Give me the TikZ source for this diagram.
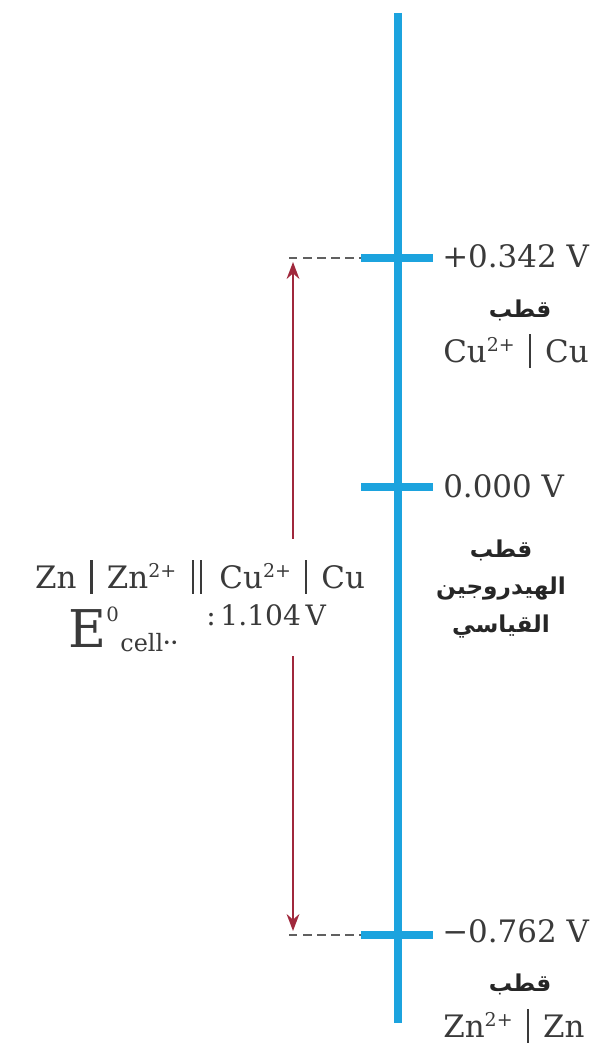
\documentclass[tikz,border=0pt]{standalone}
\usepackage{fontspec}
\setmainfont{DejaVu Serif}
\newfontfamily\arabicfont[Script=Arabic]{DejaVu Sans}
\TeXXeTstate=1
\usetikzlibrary{arrows.meta}
\definecolor{ScaleBlue}{HTML}{1CA3DE}
\definecolor{CellRed}{HTML}{A0283C}
\definecolor{LabelGrey}{HTML}{3A3A3A}
\definecolor{DashGrey}{HTML}{606060}

% ion charge, phase boundary and salt bridge
\newcommand\chg[1]{\raisebox{7.5pt}{\fontsize{13.5}{13.5}\selectfont #1}}
\newcommand\phasebar{\hspace{0.45em}\rule[-4pt]{1.8pt}{24pt}\hspace{0.45em}}
\newcommand\bridgebar{\hspace{0.5em}\rule[-4pt]{1.8pt}{24pt}\hspace{4pt}\rule[-4pt]{1.8pt}{24pt}\hspace{0.55em}}

\tikzset{
  scale line/.style={ScaleBlue, line width=5pt},
  tick line/.style={ScaleBlue, line width=5pt},
  level dash/.style={DashGrey, line width=1.5pt, dash pattern=on 6pt off 4pt},
  cell arrow/.style={CellRed, line width=1.8pt, {Stealth[length=12pt,width=9pt]}-{Stealth[length=12pt,width=9pt]}},
  volt label/.style={anchor=base west, text=LabelGrey, font=\fontsize{22}{26}\selectfont, inner sep=0pt},
  pole label/.style={text=black!85, font=\arabicfont\bfseries\fontsize{16.5}{27}\selectfont, align=center, inner sep=0pt},
}

\begin{document}
\begin{tikzpicture}[x=0.025cm,y=-0.025cm]
  \useasboundingbox (0,0) rectangle (605,1043);

  % potential axis
  \coordinate (axtop) at (398,13);
  \coordinate (axbot) at (398,1023);
  \draw[scale line] (axtop) -- (axbot);

  % electrode levels
  \coordinate (cuL) at (361,258);
  \coordinate (cuR) at (433,258);
  \coordinate (hL) at (361,487);
  \coordinate (hR) at (433,487);
  \coordinate (znL) at (361,935);
  \coordinate (znR) at (433,935);
  \draw[tick line] (cuL) -- (cuR);
  \draw[tick line] (hL) -- (hR);
  \draw[tick line] (znL) -- (znR);

  % dashed guides and cell potential
  \coordinate (cudash) at (289,258);
  \coordinate (zndash) at (289,935);
  \draw[level dash] (cudash) -- (cuL);
  \draw[level dash] (zndash) -- (znL);
  \coordinate (cutip) at (293,262);
  \coordinate (zntip) at (293,931);
  \draw[cell arrow] (cutip) -- (zntip);

  \node[anchor=base, text=LabelGrey, fill=white, inner xsep=3pt, inner ysep=15pt,
        font=\fontsize{22}{26}\selectfont] (cellnotation) at (200,588)
    {Zn\phasebar Zn\chg{2+}\bridgebar Cu\chg{2+}\phasebar Cu};
  \node[anchor=base west, text=LabelGrey, fill=white, inner xsep=3pt, inner ysep=3pt] (cellemf) at (64,647)
    {{\fontsize{37}{37}\selectfont E}\raisebox{18pt}{\fontsize{14}{14}\selectfont 0}\hspace{1pt}\raisebox{-3pt}{\fontsize{17}{17}\selectfont cell}{\fontsize{9}{9}\selectfont ••}\hspace{20pt}\raisebox{15.5pt}{\fontsize{20}{20}\selectfont :\,1.104\,V}};

  % right-hand labels
  \node[volt label] (cuvolt) at (442,268) {+0.342 V};
  \node[pole label] (cupole) at (520,310) {\beginR قطب\endR};
  \node[volt label] (cucouple) at (443,362) {Cu\chg{2+}\phasebar Cu};

  \node[volt label] (hvolt) at (443,497) {0.000 V};
  \node[pole label] (hpole) at (501,589) {\beginR قطب\endR\\ \beginR الهيدروجين\endR\\ \beginR القياسي\endR};

  \node[volt label] (znvolt) at (442,942) {−0.762 V};
  \node[pole label] (znpole) at (520,984) {\beginR قطب\endR};
  \node[volt label] (zncouple) at (443,1037) {Zn\chg{2+}\phasebar Zn};
\end{tikzpicture}
\end{document}
